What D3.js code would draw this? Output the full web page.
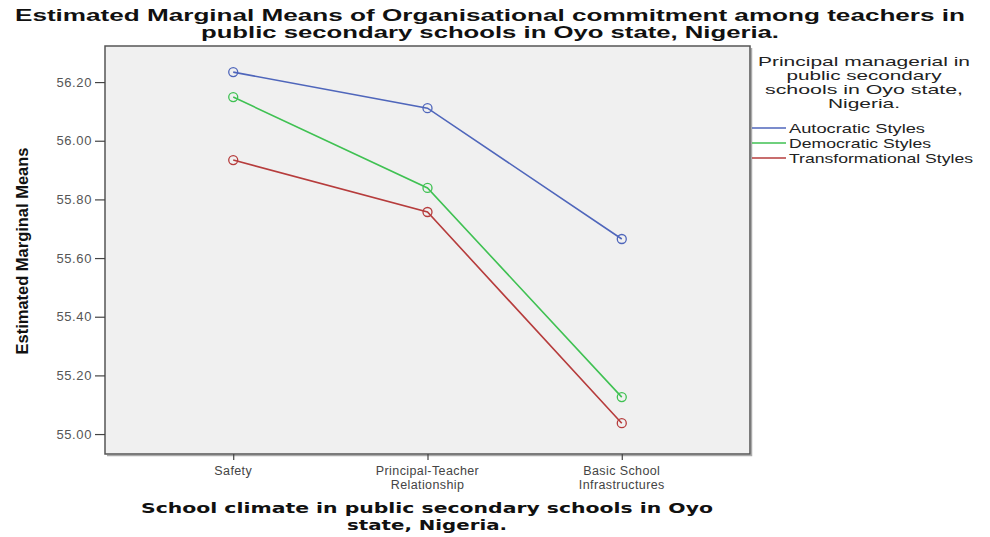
<!DOCTYPE html>
<html>
<head>
<meta charset="utf-8">
<script src="https://cdn.jsdelivr.net/npm/d3@7"></script>
<style>
  body { margin: 0; background: #fff; }
  text { font-family: "Liberation Sans", Arial, sans-serif; }
</style>
</head>
<body>
<div id="chart"></div>
<script>
// data
const categories = ["Safety", "Principal-Teacher Relationship", "Basic School Infrastructures"];
const categoryLines = [["Safety"], ["Principal-Teacher", "Relationship"], ["Basic School", "Infrastructures"]];
const seriesNames = ["Autocratic Styles", "Democratic Styles", "Transformational Styles"];
const autocratic = [56.234, 56.111, 55.665];
const democratic = [56.149, 55.839, 55.126];
const transformational = [55.934, 55.757, 55.037];
const yTicks = [55.00, 55.20, 55.40, 55.60, 55.80, 56.00, 56.20];

const seriesValues = [autocratic, democratic, transformational];
const colors = ["#4f66bb", "#3fc152", "#b63c3c"];

const width = 990, height = 537;
const box = { left: 105, top: 46, right: 750, bottom: 454 };

const svg = d3.select("#chart").append("svg")
    .attr("width", width)
    .attr("height", height);

// scales
const x = d3.scalePoint()
    .domain(categories)
    .range([box.left, box.right])
    .padding(0.66);

const y = d3.scaleLinear()
    .domain([54.932, 56.323])
    .range([box.bottom, box.top]);

// plot background
svg.append("rect")
    .attr("x", box.left).attr("y", box.top)
    .attr("width", box.right - box.left)
    .attr("height", box.bottom - box.top)
    .attr("fill", "#f0f0f0");

// shadow on right and bottom
svg.append("path")
    .attr("d", `M${box.right + 1.5},${box.top + 2} V${box.bottom + 1.5} H${box.left + 2}`)
    .attr("fill", "none")
    .attr("stroke", "#aaa")
    .attr("stroke-width", 1.5);

svg.append("rect")
    .attr("x", box.left).attr("y", box.top)
    .attr("width", box.right - box.left)
    .attr("height", box.bottom - box.top)
    .attr("fill", "none")
    .attr("stroke", "#555")
    .attr("stroke-width", 1.5);

// y axis
const yAxis = svg.append("g")
    .attr("transform", `translate(${box.left},0)`)
    .call(d3.axisLeft(y).tickValues(yTicks).tickFormat(d3.format(".2f")).tickSize(10).tickPadding(3));
yAxis.select(".domain").remove();
yAxis.selectAll(".tick line").attr("stroke", "#444").attr("stroke-width", 1.2);
yAxis.selectAll(".tick text")
    .attr("fill", "#555")
    .style("font-size", "13px")
    .style("font-family", "'Liberation Sans', Arial, sans-serif")
    .style("letter-spacing", "0.6px");

// x axis
const xAxis = svg.append("g")
    .attr("transform", `translate(0,${box.bottom})`)
    .call(d3.axisBottom(x).tickSize(6).tickFormat(""));
xAxis.select(".domain").remove();
xAxis.selectAll(".tick line").attr("stroke", "#444").attr("stroke-width", 1.2);

// category labels, one text per line
categories.forEach((c, i) => {
    categoryLines[i].forEach((line, j) => {
        svg.append("text")
            .attr("x", x(c))
            .attr("y", 475 + j * 14)
            .attr("text-anchor", "middle")
            .attr("fill", "#444")
            .style("font-size", "12.5px")
            .style("letter-spacing", "0.4px")
            .text(line);
    });
});

// lines and markers
const line = d3.line()
    .x((d, i) => x(categories[i]))
    .y(d => y(d));

seriesValues.forEach((vals, s) => {
    svg.append("path")
        .datum(vals)
        .attr("d", line)
        .attr("fill", "none")
        .attr("stroke", colors[s])
        .attr("stroke-width", 1.6);

    svg.selectAll(null)
        .data(vals)
        .join("circle")
        .attr("cx", (d, i) => x(categories[i]))
        .attr("cy", d => y(d))
        .attr("r", 4.5)
        .attr("fill", "none")
        .attr("stroke", colors[s])
        .attr("stroke-width", 1.3);
});

// title
const titleLines = [
    { text: "Estimated Marginal Means of Organisational commitment among teachers in", y: 21, len: 950 },
    { text: "public secondary schools in Oyo state, Nigeria.", y: 38, len: 578 }
];
titleLines.forEach(l => {
    svg.append("text")
        .attr("x", 490)
        .attr("y", l.y)
        .attr("text-anchor", "middle")
        .attr("textLength", l.len)
        .attr("lengthAdjust", "spacingAndGlyphs")
        .attr("fill", "#111")
        .style("font-size", "16px")
        .style("font-weight", "bold")
        .text(l.text);
});

// y axis title
svg.append("text")
    .attr("transform", `translate(28,251) rotate(-90)`)
    .attr("text-anchor", "middle")
    .attr("textLength", 207)
    .attr("lengthAdjust", "spacingAndGlyphs")
    .attr("fill", "#111")
    .style("font-size", "17px")
    .style("font-weight", "bold")
    .text("Estimated Marginal Means");

// x axis title
const xTitle = [
    { text: "School climate in public secondary schools in Oyo", y: 513, len: 572 },
    { text: "state, Nigeria.", y: 530, len: 160 }
];
xTitle.forEach(l => {
    svg.append("text")
        .attr("x", 427)
        .attr("y", l.y)
        .attr("text-anchor", "middle")
        .attr("textLength", l.len)
        .attr("lengthAdjust", "spacingAndGlyphs")
        .attr("fill", "#111")
        .style("font-family", "'DejaVu Sans', Verdana, sans-serif")
        .style("font-size", "14.5px")
        .style("font-weight", "bold")
        .text(l.text);
});

// legend
const legendTitle = [
    { text: "Principal managerial in", len: 212 },
    { text: "public secondary", len: 155 },
    { text: "schools in Oyo state,", len: 198 },
    { text: "Nigeria.", len: 72 }
];
legendTitle.forEach((l, i) => {
    svg.append("text")
        .attr("x", 864)
        .attr("y", 66 + i * 14)
        .attr("text-anchor", "middle")
        .attr("textLength", l.len)
        .attr("lengthAdjust", "spacingAndGlyphs")
        .attr("fill", "#222")
        .style("font-size", "13px")
        .text(l.text);
});

const legendLens = [136, 142, 184];
const legend = svg.append("g");
seriesNames.forEach((name, i) => {
    const ly = 128 + i * 15;
    legend.append("line")
        .attr("x1", 752).attr("x2", 786)
        .attr("y1", ly).attr("y2", ly)
        .attr("stroke", colors[i])
        .attr("stroke-width", 1.6);
    legend.append("text")
        .attr("x", 789)
        .attr("y", ly + 4.5)
        .attr("textLength", legendLens[i])
        .attr("lengthAdjust", "spacingAndGlyphs")
        .attr("fill", "#222")
        .style("font-size", "13px")
        .text(name);
});
</script>
</body>
</html>
